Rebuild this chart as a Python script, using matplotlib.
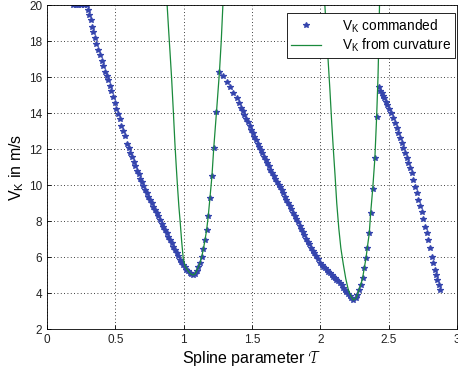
import matplotlib

matplotlib.use("Agg")
import matplotlib.pyplot as plt
import numpy as np

plt.rcParams["font.family"] = ["Liberation Sans", "DejaVu Sans"]
plt.rcParams["mathtext.fontset"] = "custom"
plt.rcParams["mathtext.rm"] = "Liberation Sans"
plt.rcParams["mathtext.it"] = "Liberation Sans:italic"

# commanded velocity (tau, V_K)
tau_cmd = [
    0.19, 0.21, 0.23, 0.25, 0.27, 0.29,
    0.300, 0.310, 0.320, 0.330, 0.340, 0.350, 0.360, 0.372, 0.385, 0.400,
    0.412, 0.425, 0.437, 0.446, 0.458, 0.470, 0.482, 0.495, 0.508, 0.520,
    0.532, 0.545, 0.558, 0.570, 0.585, 0.598, 0.610, 0.622, 0.634, 0.646,
    0.658, 0.670, 0.682, 0.694, 0.706, 0.718, 0.730, 0.742, 0.754, 0.766,
    0.778, 0.790, 0.802, 0.814, 0.827, 0.840, 0.852, 0.864, 0.876, 0.888,
    0.900, 0.912, 0.924, 0.936, 0.948, 0.960, 0.972, 0.984, 0.995, 1.008,
    1.020, 1.032, 1.044, 1.056, 1.068,
    1.083, 1.095, 1.107, 1.119, 1.132, 1.144, 1.156, 1.168, 1.180, 1.192,
    1.207, 1.220, 1.240, 1.262,
    1.290, 1.315, 1.339, 1.363, 1.388, 1.407, 1.420, 1.432, 1.445, 1.458,
    1.470, 1.482, 1.494, 1.506, 1.518, 1.530, 1.542, 1.553, 1.563, 1.575,
    1.587, 1.599, 1.611, 1.623, 1.635, 1.647, 1.659, 1.671, 1.683, 1.695,
    1.704, 1.716, 1.728, 1.740, 1.752, 1.764, 1.776, 1.788, 1.800, 1.812,
    1.824, 1.836, 1.848, 1.860, 1.872, 1.884, 1.896, 1.908, 1.920, 1.932,
    1.944, 1.956, 1.968, 1.980, 1.997, 2.010, 2.022, 2.034, 2.046, 2.058,
    2.070, 2.082, 2.094, 2.106, 2.118, 2.130, 2.143, 2.155, 2.167, 2.179,
    2.191, 2.203, 2.215, 2.228, 2.241,
    2.260, 2.270, 2.282, 2.295, 2.309, 2.321, 2.334, 2.343, 2.358, 2.368,
    2.383, 2.399, 2.412,
    2.431, 2.440, 2.448, 2.457, 2.465, 2.478, 2.490, 2.503, 2.516, 2.531,
    2.546, 2.558, 2.570, 2.582, 2.594, 2.606, 2.619, 2.631, 2.643, 2.655,
    2.668, 2.680, 2.692, 2.704, 2.717, 2.729, 2.741, 2.753, 2.765, 2.777,
    2.790, 2.802, 2.814, 2.826, 2.838, 2.846, 2.855, 2.865, 2.875,
]
v_cmd = [
    20.0, 20.0, 20.0, 20.0, 20.0, 20.0,
    19.75, 19.45, 19.15, 18.80, 18.50, 18.15, 17.85, 17.50, 17.20, 16.90,
    16.60, 16.30, 16.05, 15.85, 15.50, 15.20, 14.90, 14.55, 14.25, 13.95,
    13.65, 13.30, 13.00, 12.70, 12.30, 12.05, 11.80, 11.55, 11.30, 11.05,
    10.80, 10.60, 10.35, 10.15, 9.95, 9.75, 9.55, 9.35, 9.17, 8.98,
    8.80, 8.62, 8.44, 8.26, 8.06, 7.86, 7.68, 7.50, 7.32, 7.12,
    6.94, 6.76, 6.58, 6.40, 6.22, 6.04, 5.86, 5.70, 5.56, 5.42,
    5.30, 5.20, 5.12, 5.05, 5.00,
    5.06, 5.24, 5.43, 5.65, 6.02, 6.43, 6.94, 7.50, 8.28, 9.26,
    10.50, 12.05, 14.04, 16.30,
    16.06, 15.74, 15.43, 15.13, 14.82, 14.54, 14.30, 14.10, 13.90, 13.68,
    13.48, 13.28, 13.08, 12.88, 12.68, 12.48, 12.28, 12.10, 11.94, 11.76,
    11.58, 11.40, 11.22, 11.04, 10.86, 10.68, 10.52, 10.35, 10.18, 10.02,
    9.90, 9.72, 9.54, 9.36, 9.18, 9.00, 8.82, 8.64, 8.46, 8.28,
    8.10, 7.92, 7.74, 7.56, 7.38, 7.20, 7.02, 6.86, 6.70, 6.52,
    6.36, 6.20, 6.04, 5.88, 5.65, 5.55, 5.46, 5.37, 5.28, 5.19,
    5.10, 5.00, 4.91, 4.82, 4.73, 4.64, 4.54, 4.42, 4.30, 4.18,
    4.06, 3.95, 3.83, 3.72, 3.61,
    3.70, 3.89, 4.17, 4.44, 4.81, 5.37, 5.93, 6.48, 7.31, 8.43,
    9.76, 11.48, 13.80,
    15.46, 15.25, 15.09, 14.95, 14.81, 14.62, 14.44, 14.22, 13.98, 13.70,
    13.43, 13.15, 12.87, 12.59, 12.31, 12.04, 11.76, 11.48, 11.20, 10.93,
    10.65, 10.28, 9.91, 9.54, 9.17, 8.85, 8.52, 8.10, 7.68, 7.31,
    6.94, 6.48, 6.02, 5.65, 5.28, 5.00, 4.72, 4.45, 4.17,
]

# velocity limit from curvature, two branches (clipped at the top)
tau_curv_1 = [
    0.870, 0.879, 0.890, 0.900, 0.912, 0.925, 0.936, 0.946, 0.955, 0.965,
    0.975, 0.985, 0.997, 1.010, 1.022, 1.035, 1.046, 1.058, 1.068, 1.083,
    1.095, 1.107, 1.119, 1.132, 1.144, 1.156, 1.168, 1.180, 1.192, 1.207,
    1.220, 1.240, 1.262, 1.275, 1.287, 1.295,
]
v_curv_1 = [
    21.0, 20.0, 18.6, 17.4, 15.9, 14.0, 12.3, 11.0, 9.9, 8.8,
    7.9, 6.9, 5.9, 5.5, 5.35, 5.2, 5.1, 5.03, 5.00, 5.06,
    5.24, 5.43, 5.65, 6.02, 6.43, 6.94, 7.50, 8.28, 9.26, 10.50,
    12.05, 14.04, 16.30, 18.0, 20.0, 21.0,
]
tau_curv_2 = [
    2.028, 2.033, 2.045, 2.058, 2.070, 2.083, 2.095, 2.108, 2.120, 2.135,
    2.150, 2.168, 2.186, 2.204, 2.222, 2.241, 2.260, 2.270, 2.282, 2.295,
    2.309, 2.321, 2.334, 2.343, 2.358, 2.368, 2.383, 2.399, 2.412, 2.422,
    2.428, 2.433, 2.436,
]
v_curv_2 = [
    21.0, 20.0, 18.5, 16.8, 15.3, 13.5, 12.0, 10.5, 9.0, 7.6,
    6.5, 5.6, 4.8, 4.2, 3.85, 3.61, 3.70, 3.89, 4.17, 4.44,
    4.81, 5.37, 5.93, 6.48, 7.31, 8.43, 9.76, 11.48, 13.80, 16.0,
    18.0, 20.0, 21.0,
]

x_ticks = [0, 0.5, 1, 1.5, 2, 2.5, 3]
x_tick_labels = ["0", "0.5", "1", "1.5", "2", "2.5", "3"]
y_ticks = [2, 4, 6, 8, 10, 12, 14, 16, 18, 20]

blue = "#3545ad"
green = "#1a8a3c"

fig = plt.figure(figsize=(4.58, 3.72), dpi=100)
ax = fig.add_axes([47 / 458, 1 - 329 / 372, 410 / 458, 324 / 372])

ax.plot(tau_cmd, v_cmd, linestyle="none", marker="*", markersize=3.8,
        markeredgewidth=0.9, color=blue, label=r"V$_\mathrm{K}$ commanded")
ax.plot(tau_curv_1, v_curv_1, color=green, linewidth=0.9,
        label=r"V$_\mathrm{K}$ from curvature")
ax.plot(tau_curv_2, v_curv_2, color=green, linewidth=0.9)

ax.set_xlim(0, 3)
ax.set_ylim(2, 20)
ax.set_xticks(x_ticks, x_tick_labels)
ax.set_yticks(y_ticks)
ax.tick_params(direction="in", labelsize=8.5, length=3, width=0.6,
               labelcolor="#222222")
ax.grid(True, linestyle=(0, (1, 3)), color="black", linewidth=0.6)
for spine in ax.spines.values():
    spine.set_linewidth(0.6)

ax.set_xlabel(r"Spline parameter $\mathcal{T}$", fontsize=11.5, labelpad=2)
ax.set_ylabel(r"V$_\mathrm{K}$ in m/s", fontsize=11.5, labelpad=2)

leg = ax.legend(loc="upper right", bbox_to_anchor=(0.995, 0.975), fontsize=9.8,
                frameon=True, fancybox=False, framealpha=1, edgecolor="black",
                handlelength=2.2, borderpad=0.3, labelspacing=0.15,
                handletextpad=1.5, borderaxespad=0)
leg.get_frame().set_linewidth(0.6)

fig.savefig("out.png", dpi=100)
plt.close(fig)
